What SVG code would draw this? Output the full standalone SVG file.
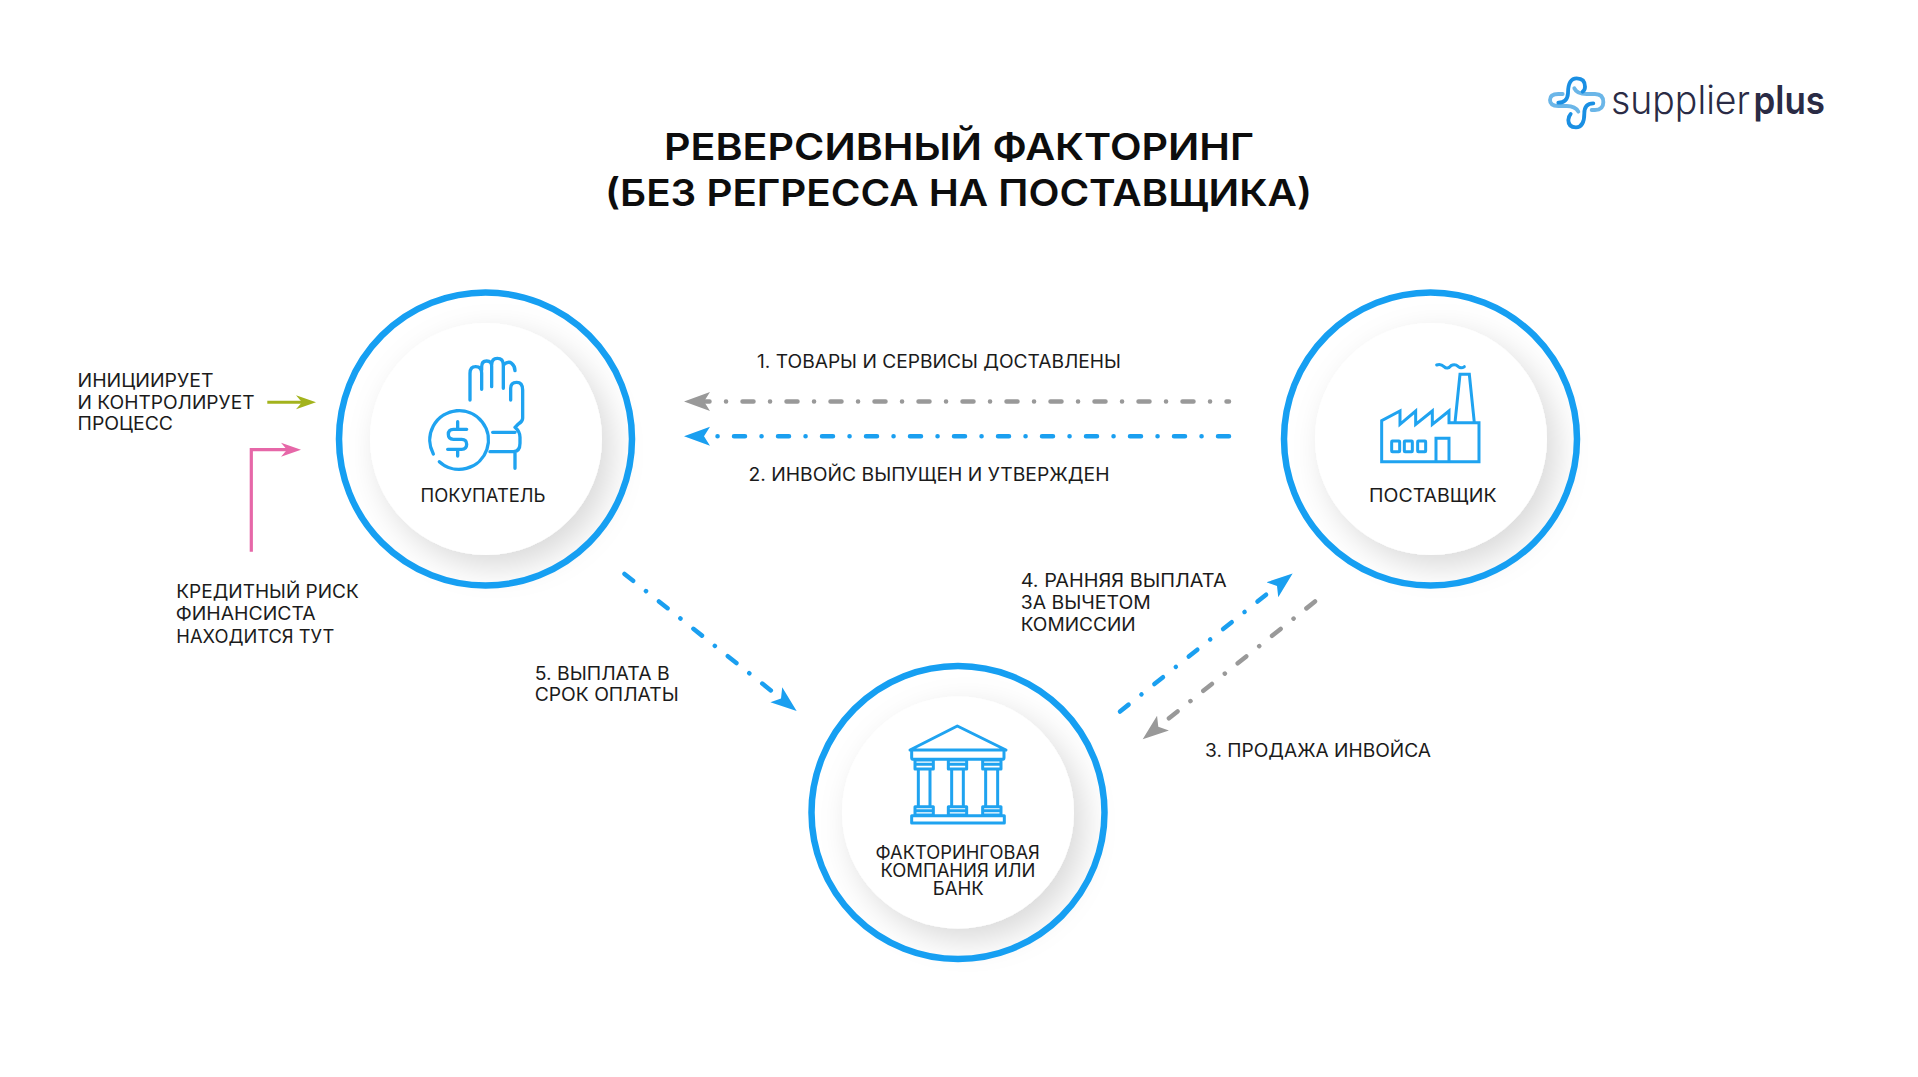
<svg xmlns="http://www.w3.org/2000/svg" width="1918" height="1077" viewBox="0 0 1918 1077">
<style>
text{font-family:Inter,"Noto Sans",sans-serif;fill:#1b1b1b}
.t{font-size:18px;font-weight:400}
.h{font-size:37px;font-weight:600;fill:#0d0d0d}
.ring{fill:none;stroke:#169ff2;stroke-width:6.500}
.disc{fill:#fff;filter:url(#sh)}
.ico{fill:none;stroke:#1fa3f0;stroke-width:10;stroke-linecap:round;stroke-linejoin:round}
.d{fill:none;stroke-width:4.5;stroke-linecap:round;stroke-dasharray:11 16.4 .1 16.5}
.g{stroke:#999}
.b{stroke:#1a9ff0}
</style>
<defs>
<filter id="sh" x="-40%" y="-40%" width="190%" height="190%"><feDropShadow dx="10" dy="12" stdDeviation="16" flood-color="#000" flood-opacity=".15"/></filter>
<marker id="ag" markerUnits="userSpaceOnUse" markerWidth="34" markerHeight="28" refX="6" refY="14" orient="auto"><path d="M26 14L0 4.500L6 14L0 23.500Z" fill="#999"/></marker>
<marker id="ab" markerUnits="userSpaceOnUse" markerWidth="34" markerHeight="28" refX="6" refY="14" orient="auto"><path d="M26 14L0 4.500L6 14L0 23.500Z" fill="#1a9ff0"/></marker>
<marker id="ap" markerUnits="userSpaceOnUse" markerWidth="24" markerHeight="18" refX="6" refY="9" orient="auto"><path d="M20 9L0 2L6 9L0 16Z" fill="#e667a8"/></marker>
<marker id="ao" markerUnits="userSpaceOnUse" markerWidth="24" markerHeight="18" refX="6" refY="9" orient="auto"><path d="M20 9L0 2L6 9L0 16Z" fill="#a3b31c"/></marker>
</defs>
<rect width="1918" height="1077" fill="#fff"/>
<g id="title">
<text class="h" x="664" y="160" textLength="590" lengthAdjust="spacingAndGlyphs">РЕВЕРСИВНЫЙ ФАКТОРИНГ</text>
<text class="h" x="605" y="206" textLength="707" lengthAdjust="spacingAndGlyphs">(БЕЗ РЕГРЕССА НА ПОСТАВЩИКА)</text>
</g>
<g id="logo">
<g transform="translate(1540 70) scale(.3333)" fill="none" stroke-width="11.5" stroke-linecap="round">
<path stroke="#6bb6e8" d="M103 55C110 70 125 72 140 72H165Q190 72 190 97Q190 120 165 120H155"/>
<path stroke="#6bb6e8" d="M115 125C108 112 95 108 80 108H55Q30 108 30 90Q30 72 55 72H68"/>
<path stroke="#1a8fe3" d="M55 98Q82 98 84 70Q84 25 110 25Q135 25 135 50Q135 60 128 65"/>
<path stroke="#1a8fe3" d="M160 100Q133 100 133 130Q133 172 108 172Q85 172 85 150Q85 140 92 132"/>
</g>
<text x="1611" y="114" font-size="39" font-weight="300" style="fill:#2a2b45" textLength="139" lengthAdjust="spacingAndGlyphs">supplier</text>
<text x="1753.500" y="114" font-size="39" font-weight="600" style="fill:#2a2b45" textLength="71.500" lengthAdjust="spacingAndGlyphs">plus</text>
</g>
<g id="buyer">
<circle class="disc" cx="486" cy="439" r="116"/>
<circle class="ring" cx="485.500" cy="439" r="146.500"/>
<g class="ico" transform="translate(420 350) scale(.3333)">
<path d="M150 150V70Q150 50 167 50Q185 50 185 70V118M185 60V50Q185 33 200 33Q215 33 215 48V110M215 45Q215 25 232 25Q250 25 250 45V115M250 45Q265 32 275 40Q285 48 285 62M272 150V115Q272 97 290 97Q308 97 308 120V205Q308 215 295 222L285 232Q300 245 300 262V280Q300 305 280 305H210M218 247H285M285 305V355"/>
<path d="M40 312A88 88 0 1 1 58 335"/>
<path d="M140 238H100Q85 238 85 253Q85 268 100 268H125Q140 268 140 283Q140 298 125 298H83M113 215V238M113 298V318"/>
</g>
<text class="t" x="420.500" y="501.700" textLength="125" lengthAdjust="spacingAndGlyphs">ПОКУПАТЕЛЬ</text>
</g>
<g id="supplier">
<circle class="disc" cx="1431" cy="439" r="116"/>
<circle class="ring" cx="1430.500" cy="439" r="146.500"/>
<g class="ico" transform="translate(1375 355) scale(.3333)" style="stroke-width:9;stroke-linecap:butt;stroke-linejoin:miter">
<path d="M20 320V197L75 168V208L122 168V208L172 168V208L222 168V203H312V320ZM240 203L255 58H283L298 203M183 320V250H222V320"/>
<path d="M185 30Q197 25 207 35Q217 45 228 32Q240 25 250 35Q258 42 268 35" style="stroke-linecap:round"/>
<rect x="50" y="258" width="24" height="32" rx="2"/><rect x="88" y="258" width="24" height="32" rx="2"/><rect x="128" y="258" width="24" height="32" rx="2"/>
</g>
<text class="t" x="1369" y="501.700" textLength="127.500" lengthAdjust="spacingAndGlyphs">ПОСТАВЩИК</text>
</g>
<g id="bank">
<circle class="disc" cx="958" cy="812.500" r="116"/>
<circle class="ring" cx="958" cy="812.500" r="146.500"/>
<g class="ico" transform="translate(900 715) scale(.3333)" style="stroke-width:9;stroke-linecap:butt">
<path d="M30 105L172 33L318 105ZM35 105V128Q35 133 42 133H305Q312 133 312 128V105"/>
<path d="M45 135H100V162H45ZM45 148H100M55 162V275M90 162V275M45 275H100V300H45ZM45 287H100"/>
<path d="M145 135H200V162H145ZM145 148H200M155 162V275M190 162V275M145 275H200V300H145ZM145 287H200"/>
<path d="M248 135H303V162H248ZM248 148H303M257 162V275M293 162V275M248 275H303V300H248ZM248 287H303"/>
<rect x="35" y="302" width="278" height="22"/>
</g>
<text class="t" x="875.500" y="858.800" textLength="164.300" lengthAdjust="spacingAndGlyphs">ФАКТОРИНГОВАЯ</text>
<text class="t" x="880.500" y="876.700" textLength="155" lengthAdjust="spacingAndGlyphs">КОМПАНИЯ ИЛИ</text>
<text class="t" x="932.800" y="895" textLength="51" lengthAdjust="spacingAndGlyphs">БАНК</text>
</g>
<g id="connectors">
<path class="d g" style="stroke-dashoffset:8.500" d="M1229 401.500H704" marker-end="url(#ag)"/>
<path class="d b" d="M1229 436.200H704" marker-end="url(#ab)"/>
<path class="d g" d="M1315 601.500L1158.300 726.800" marker-end="url(#ag)"/>
<path class="d b" d="M1120 711.500L1277 586" marker-end="url(#ab)"/>
<path class="d b" d="M624.500 574L781 698.500" marker-end="url(#ab)"/>
<path d="M267.300 402.300H302" fill="none" stroke="#a3b31c" stroke-width="3" marker-end="url(#ao)"/>
<path d="M251.300 551.700V449.700H287" fill="none" stroke="#e667a8" stroke-width="3.200" marker-end="url(#ap)"/>
</g>
<g id="labels">
<text class="t" x="757" y="368" textLength="364" lengthAdjust="spacingAndGlyphs">1. ТОВАРЫ И СЕРВИСЫ ДОСТАВЛЕНЫ</text>
<text class="t" x="748.500" y="481" textLength="361" lengthAdjust="spacingAndGlyphs">2. ИНВОЙС ВЫПУЩЕН И УТВЕРЖДЕН</text>
<text class="t" x="77.500" y="387.300" textLength="136" lengthAdjust="spacingAndGlyphs">ИНИЦИИРУЕТ</text>
<text class="t" x="77.500" y="409.300" textLength="177" lengthAdjust="spacingAndGlyphs">И КОНТРОЛИРУЕТ</text>
<text class="t" x="77.500" y="430" textLength="95.500" lengthAdjust="spacingAndGlyphs">ПРОЦЕСС</text>
<text class="t" x="176.300" y="597.700" textLength="182.500" lengthAdjust="spacingAndGlyphs">КРЕДИТНЫЙ РИСК</text>
<text class="t" x="175.700" y="620" textLength="140" lengthAdjust="spacingAndGlyphs">ФИНАНСИСТА</text>
<text class="t" x="176.300" y="642.700" textLength="158" lengthAdjust="spacingAndGlyphs">НАХОДИТСЯ ТУТ</text>
<text class="t" x="1020.700" y="586.700" textLength="206" lengthAdjust="spacingAndGlyphs">4. РАННЯЯ ВЫПЛАТА</text>
<text class="t" x="1020.700" y="609" textLength="130" lengthAdjust="spacingAndGlyphs">ЗА ВЫЧЕТОМ</text>
<text class="t" x="1020.700" y="631" textLength="115" lengthAdjust="spacingAndGlyphs">КОМИССИИ</text>
<text class="t" x="1205" y="756.700" textLength="226" lengthAdjust="spacingAndGlyphs">3. ПРОДАЖА ИНВОЙСА</text>
<text class="t" x="534.700" y="680" textLength="135" lengthAdjust="spacingAndGlyphs">5. ВЫПЛАТА В</text>
<text class="t" x="534.700" y="701" textLength="144" lengthAdjust="spacingAndGlyphs">СРОК ОПЛАТЫ</text>
</g>
</svg>
